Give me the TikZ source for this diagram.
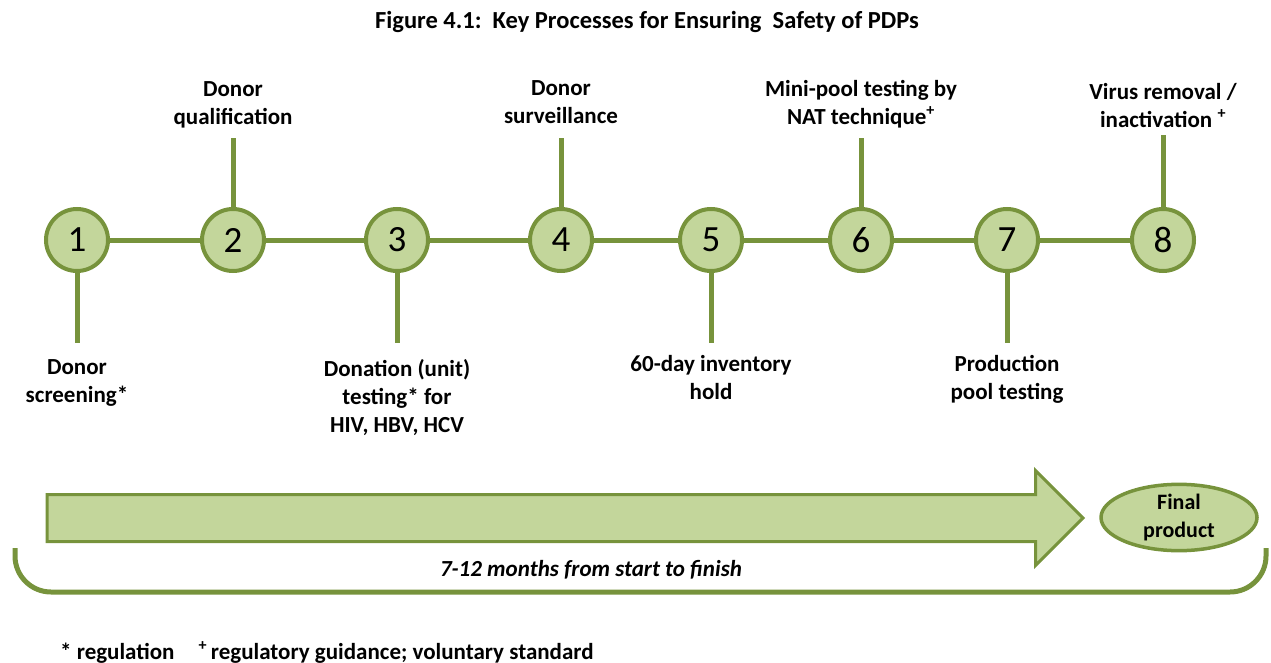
\documentclass[tikz,border=0pt]{standalone}
\usepackage{fontspec}
\setmainfont{Carlito}
\usetikzlibrary{shapes.geometric, shapes.arrows, positioning}
\usepackage{xcolor}
\definecolor{lineGreen}{RGB}{119,147,60}
\definecolor{fillGreen}{RGB}{195,214,155}
\tikzset{
    % Colors
    compGreen/.style={draw=lineGreen, fill=fillGreen},
    % Shapes
    stepnode/.style={circle, line width=4pt, minimum size=62pt, inner sep=0pt,
                 font=\fontsize{37}{40}\selectfont, compGreen},
    final/.style={ellipse, line width=3.5pt, minimum width=156pt, minimum height=62pt,
                  inner sep=0pt, align=center, font=\fontsize{22}{28}\selectfont\bfseries, compGreen},
    bigArrow/.style={single arrow, line width=3pt, minimum height=1036pt, minimum width=94pt,
                     single arrow head extend=24pt, single arrow head indent=0pt,
                     inner xsep=0pt, inner ysep=22pt, compGreen},
    % Flow & Labels
    link/.style={line width=5pt, lineGreen},
    lbl/.style={inner sep=0pt, align=center, font=\fontsize{23}{28}\selectfont\bfseries},
    title/.style={inner sep=0pt, font=\fontsize{24.5}{28}\selectfont\bfseries}
}

\begin{document}
\begin{tikzpicture}[x=1pt, y=-1pt]
\useasboundingbox (0,0) rectangle (1271,663);

\node[title] (title) at (647,22) {Figure 4.1:\ \ Key Processes for Ensuring\ \ Safety of PDPs};

% timeline
\foreach \n/\x in {1/77, 2/233, 3/397, 4/561, 5/711, 6/861, 7/1007, 8/1163}
    \node[stepnode] (c\n) at (\x,240) {\n};
\foreach \a/\b in {1/2, 2/3, 3/4, 4/5, 5/6, 6/7, 7/8}
    \draw[link] (c\a) -- (c\b);

% stems above
\draw[link] (c2.north) -- ++(0,-69) coordinate (t2);
\draw[link] (c4.north) -- ++(0,-69) coordinate (t4);
\draw[link] (c6.north) -- ++(0,-69) coordinate (t6);
\draw[link] (c8.north) -- ++(0,-72) coordinate (t8);
% stems below
\draw[link] (c1.south) -- ++(0,70) coordinate (b1);
\draw[link] (c3.south) -- ++(0,70) coordinate (b3);
\draw[link] (c5.south) -- ++(0,70) coordinate (b5);
\draw[link] (c7.south) -- ++(0,70) coordinate (b7);

\node[lbl, above=10pt of t2] (qual) {Donor\\qualification};
\node[lbl, above=14pt of t4] (surv) {Donor\\surveillance};
\node[lbl, above=10pt of t6] (nat) {Mini-pool testing by\\NAT technique\textsuperscript{+}};
\node[lbl, above=7pt of t8] (virus) {Virus removal /\\inactivation \textsuperscript{+}};

\node[lbl, below=16pt of b1] (screen) {Donor\\screening*};
\node[lbl, below=16pt of b3] (unit) {Donation (unit)\\testing* for\\HIV, HBV, HCV};
\node[lbl, below=12pt of b5] (hold) {60-day inventory\\hold};
\node[lbl, below=12pt of b7] (pool) {Production\\pool testing};

% duration
\node[bigArrow, anchor=tail] (arrow) at (45.5,518) {};
\node[final] (final) at (1179,517.5) {Final\\product};
\coordinate (brL) at (15,548);
\coordinate (brR) at (1266,548);
\draw[link, rounded corners=36pt] (brL) -- (brL |- 0,592) -- (brR |- 0,592) -- (brR);
\node[lbl, font=\fontsize{23}{28}\selectfont\bfseries\itshape] (span) at (591,570) {7-12 months from start to finish};

\node[lbl, anchor=west, font=\fontsize{23}{28}\selectfont\bfseries] (note) at (60,652)
    {* regulation\hspace{24pt}\textsuperscript{+}\,regulatory guidance; voluntary standard};

\end{tikzpicture}
\end{document}
